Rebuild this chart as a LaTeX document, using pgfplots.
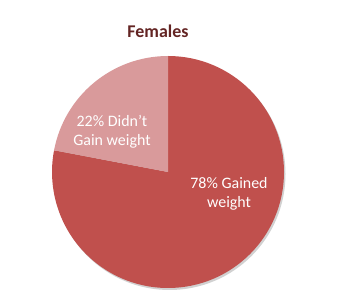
\documentclass[border=0pt]{standalone}
\usepackage{pgfplots}
\pgfplotsset{compat=1.18}
\usepackage{pgfplotstable}
\usepackage{fontspec}
\setmainfont{Carlito}
\definecolor{gaincol}{HTML}{C0504D}
\definecolor{nogaincol}{HTML}{D99A9B}
\definecolor{titlecol}{HTML}{632423}
\pgfplotstableread{
value
78
22
}\piedata
\pgfplotstablegetelem{0}{value}\of\piedata \let\va\pgfplotsretval
\pgfplotstablegetelem{1}{value}\of\piedata \let\vb\pgfplotsretval
\begin{document}
\begin{tikzpicture}
\path[use as bounding box] (0,0) rectangle (344bp,307bp);
\begin{axis}[
  at={(0,0)}, anchor=origin,
  width=344bp, height=307bp, scale only axis,
  xmin=0, xmax=344, ymin=0, ymax=307,
  enlargelimits=false, hide axis, clip=false]
\pgfmathsetmacro{\ea}{90-\va*3.6}
% shadow
\fill[black!30, opacity=0.6] (axis cs:169.5,133) circle[radius=116bp];
\fill[gaincol] (axis cs:168,135) -- ++(90:116bp) arc[start angle=90, end angle=\ea, radius=116bp] -- cycle;
\fill[nogaincol] (axis cs:168,135) -- ++(\ea:116bp) arc[start angle=\ea, end angle={\ea-\vb*3.6}, radius=116bp] -- cycle;
\node[font=\fontsize{18}{20}\selectfont\bfseries, text=titlecol] at (axis cs:158,276) {Females};
\node[font=\fontsize{16}{19}\selectfont, text=white, align=center] at (axis cs:112,175) {22\% Didn't\\Gain weight};
\node[font=\fontsize{16}{19}\selectfont, text=white, align=center] at (axis cs:229,113) {78\% Gained\\weight};
\end{axis}
\end{tikzpicture}
\end{document}
